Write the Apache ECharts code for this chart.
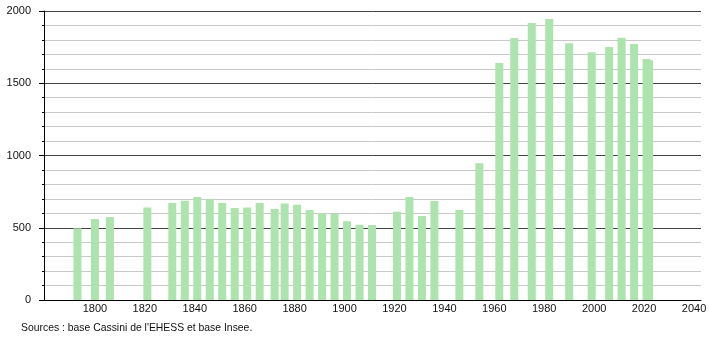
<!DOCTYPE html>
<html>
<head>
<meta charset="utf-8">
<script src="https://cdn.jsdelivr.net/npm/echarts@6/dist/echarts.min.js"></script>
<style>
html,body{margin:0;padding:0;background:#fff;}
#chart{width:710px;height:340px;}
</style>
</head>
<body>
<div id="chart"></div>
<script>
const years = [1793,1800,1806,1821,1831,1836,1841,1846,1851,1856,1861,1866,1872,1876,1881,1886,1891,1896,1901,1906,1911,1921,1926,1931,1936,1946,1954,1962,1968,1975,1982,1990,1999,2006,2011,2016,2021,2022];
const population = [496,560,574,641,671,687,713,697,671,637,640,671,630,667,659,623,600,597,545,521,519,611,713,581,685,623,946,1640,1813,1917,1945,1776,1715,1751,1815,1772,1668,1660];
const xTickLabels = [1800,1820,1840,1860,1880,1900,1920,1940,1960,1980,2000,2020,2040];
const yTickLabels = [0,500,1000,1500,2000];
const sourceText = "Sources : base Cassini de l'EHESS et base Insee.";

const chart = echarts.init(document.getElementById('chart'), null, {renderer: 'canvas'});
const font = 'Liberation Sans, Arial, sans-serif';
chart.setOption({
  animation: false,
  backgroundColor: '#fff',
  grid: {left: 44, right: 9, top: 11, bottom: 40, containLabel: false},
  xAxis: {
    type: 'value',
    min: 1779.6,
    max: 2042.8,
    axisLine: {show: true, onZero: false, lineStyle: {color: '#000', width: 1}},
    axisTick: {show: false},
    splitLine: {show: false},
    axisLabel: {
      customValues: xTickLabels,
      formatter: v => String(v),
      color: '#111',
      fontSize: 11,
      fontFamily: font,
      margin: 3
    }
  },
  yAxis: {
    type: 'value',
    min: 0,
    max: 2000,
    interval: 500,
    axisLine: {show: true, lineStyle: {color: '#000', width: 1}},
    axisTick: {show: true, length: 5, lineStyle: {color: '#000'}},
    minorTick: {show: true, splitNumber: 5, length: 2, lineStyle: {color: '#000'}},
    splitLine: {show: true, lineStyle: {color: '#444', width: 1}},
    minorSplitLine: {show: true, lineStyle: {color: '#c8c8c8', width: 1}},
    axisLabel: {
      customValues: yTickLabels,
      formatter: v => String(v),
      color: '#111',
      fontSize: 11,
      fontFamily: font,
      margin: 13
    }
  },
  graphic: [{
    type: 'text',
    left: 21,
    top: 323,
    style: {text: sourceText, fontSize: 10.4, fontFamily: font, fill: '#111'}
  }],
  series: [{
    type: 'bar',
    barWidth: 8,
    itemStyle: {color: '#ade3ad'},
    data: years.map((y, i) => [y, population[i]])
  }]
});
</script>
</body>
</html>
